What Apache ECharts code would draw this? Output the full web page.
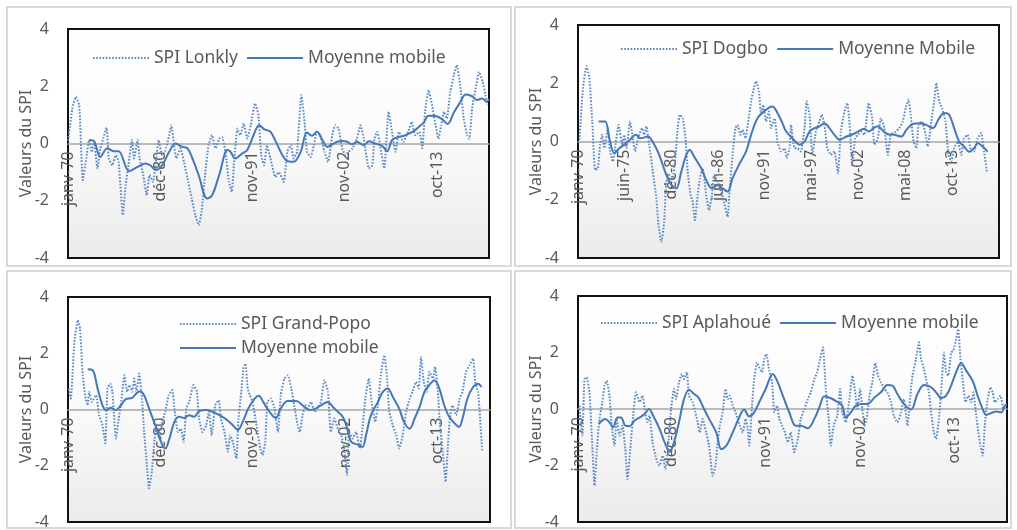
<!DOCTYPE html>
<html><head><meta charset="utf-8">
<script src="https://cdn.jsdelivr.net/npm/echarts@6/dist/echarts.min.js"></script>
<style>html,body{margin:0;padding:0;background:#fff}#c{width:1017px;height:530px}</style>
</head><body><div id="c"></div>
<script>
// ---------- categories / tick labels ----------
const monthNames = ['janv','févr','mars','avr','mai','juin','juil','août','sept','oct','nov','déc'];
const firstYear = 1970;
const monthCount = 600;        // janv-70 .. déc-19
const monthCountDogbo = 592;   // Dogbo axis ends earlier
const ticksMain = ['janv-70','déc-80','nov-91','nov-02','oct-13'];
const ticksDogbo = ['janv-70','juin-75','déc-80','juin-86','nov-91','mai-97','nov-02','mai-08','oct-13'];
const yMin = -4, yMax = 4, yInterval = 2;

// ---------- series values: [month index, SPI] ----------
const spiLonkly = [[0,0.1],[3,0.64],[6,1.2],[11,1.63],[16,1.34],[21,-1.28],[26,-0.52],[30,0.12],[34,-0.3],[37,0.06],[42,-0.87],[46,-0.17],[50,0.17],[55,0.55],[58,-0.52],[63,-0.76],[68,-0.41],[72,-0.64],[78,-2.5],[82,-1.46],[86,-0.76],[91,0.12],[94,-0.52],[99,0.12],[102,-0.52],[107,-1.1],[112,-1.81],[116,-1.1],[121,-1.34],[125,-0.64],[129,0.12],[134,-0.41],[138,-0.29],[144,0.29],[147,0.64],[151,-0.06],[154,-0.52],[160,-0.17],[165,-0.64],[171,-1.34],[176,-1.92],[181,-2.5],[186,-2.85],[190,-2.39],[195,-1.11],[200,-0.06],[205,0.29],[210,-0.17],[215,0.17],[219,0.23],[224,-0.29],[229,-1.34],[233,-1.69],[236,-0.76],[241,0.52],[245,0.29],[250,0.7],[255,0.17],[260,0.64],[266,1.4],[271,0.99],[275,-0.41],[279,-0.76],[283,-0.06],[288,-0.52],[295,-1.17],[300,-1.0],[307,-1.34],[312,-0.29],[317,-0.06],[321,-0.52],[326,-0.29],[332,1.69],[337,0.64],[340,-0.29],[345,-0.47],[350,-0.06],[354,0.41],[359,0.29],[365,-0.29],[370,-0.64],[376,0.29],[380,0.64],[385,0.52],[390,-0.17],[395,-0.41],[399,-0.29],[405,-0.17],[411,0.17],[416,0.64],[421,0.17],[428,-0.87],[433,-0.76],[436,0.17],[440,0.41],[444,-0.06],[450,-0.87],[456,1.11],[461,0.41],[466,-0.29],[471,0.41],[477,0.06],[484,0.41],[489,0.76],[494,0.29],[500,0.41],[504,-0.17],[508,1.11],[513,1.86],[518,1.34],[523,0.64],[527,0.17],[531,0.64],[535,1.11],[539,0.87],[544,1.81],[549,2.39],[553,2.74],[558,2.04],[563,0.87],[568,0.29],[571,0.17],[575,1.22],[580,1.92],[585,2.5],[590,2.16],[594,1.69],[597,1.34]];
const maLonkly = [[30,0.12],[37,0.08],[46,-0.47],[56,-0.17],[65,-0.27],[72,-0.27],[87,-0.97],[99,-0.82],[110,-0.7],[117,-0.76],[125,-0.93],[134,-0.76],[144,-0.29],[153,0],[163,-0.12],[170,-0.17],[177,-0.52],[186,-1.11],[198,-1.92],[205,-1.81],[215,-1.11],[227,-0.23],[231,-0.29],[238,-0.52],[248,-0.35],[255,-0.23],[264,0.29],[272,0.64],[279,0.5],[288,0.41],[295,0.1],[310,-0.58],[321,-0.64],[331,-0.29],[340,0.38],[347,0.27],[354,0.41],[362,0.12],[369,-0.12],[376,-0.03],[383,0.06],[390,0.09],[397,0.06],[404,-0.03],[411,0.06],[421,-0.06],[428,0.08],[437,0],[447,-0.08],[454,-0.27],[461,0.12],[468,0.21],[478,0.27],[485,0.35],[492,0.43],[499,0.58],[506,0.73],[513,0.97],[523,0.96],[532,0.85],[540,0.68],[549,1.08],[557,1.4],[566,1.71],[575,1.65],[582,1.52],[589,1.57],[596,1.46],[599,1.55]];

const spiDogbo = [[2,0.06],[7,1.84],[12,2.59],[16,2.18],[20,0.69],[24,-0.98],[28,-0.92],[31,-0.11],[34,0.23],[37,-0.23],[42,0.46],[45,-0.34],[49,-0.69],[52,-0.23],[57,0.57],[62,-0.11],[65,0.23],[68,-0.23],[73,0.69],[77,0.11],[80,-0.34],[85,0.17],[90,0.46],[93,0.23],[96,0.52],[100,-0.11],[105,-1.03],[110,-1.95],[113,-2.87],[117,-3.45],[121,-2.76],[124,-1.38],[129,-1.15],[133,-1.26],[137,-0.46],[140,0.46],[143,0.92],[147,0.8],[151,0.11],[154,-1.03],[158,-1.84],[161,-2.07],[164,-2.7],[168,-1.84],[171,-1.26],[175,-0.92],[180,-1.84],[184,-2.36],[188,-1.84],[191,-1.15],[196,-1.38],[201,-1.72],[205,-2.07],[210,-2.59],[213,-1.61],[217,-0.46],[221,0.46],[224,0.57],[228,0.23],[231,0.4],[235,0.11],[239,0.69],[243,1.38],[247,1.84],[250,2.07],[254,1.72],[257,0.92],[260,1.26],[264,0.69],[268,1.03],[271,0.46],[276,0.8],[280,0],[285,-0.34],[290,-0.23],[293,-0.57],[297,-0.23],[299,0.57],[304,-0.23],[308,-0.23],[313,-0.34],[318,0.46],[321,1.38],[325,0.92],[329,-0.46],[334,0.34],[339,0.69],[342,0.92],[346,0.57],[350,-0.23],[355,-0.46],[360,-0.34],[365,-1.09],[369,0.34],[374,1.03],[378,1.32],[381,0.69],[385,-0.8],[389,0.11],[393,0.23],[397,0.34],[402,0.23],[408,1.32],[413,0.8],[416,-0.11],[421,0.11],[425,0.8],[430,0.46],[435,-0.46],[439,0.23],[446,0.34],[451,0.46],[456,0.69],[460,1.15],[464,1.44],[467,0.92],[471,0],[475,-0.23],[478,0.57],[483,0.69],[488,0.23],[491,-0.17],[496,0.69],[500,1.38],[503,2.01],[507,1.38],[511,1.15],[516,0.69],[520,-0.46],[524,-0.69],[528,-0.23],[533,0],[538,-0.46],[542,0.11],[547,0.23],[552,-0.34],[556,-0.34],[561,0.11],[566,0.29],[570,-0.34],[574,-1.03]];
const maDogbo = [[29,0.69],[38,0.69],[44,0.11],[51,-0.4],[58,-0.23],[66,-0.09],[74,0.09],[81,0.23],[88,0.11],[98,0.17],[106,-0.06],[114,-0.46],[124,-1.15],[131,-1.49],[138,-1.61],[145,-1.03],[152,-0.46],[157,-0.29],[163,-0.52],[173,-0.92],[181,-1.38],[188,-1.61],[196,-1.49],[203,-1.61],[210,-1.72],[217,-1.26],[226,-0.8],[236,-0.34],[243,0.23],[252,0.8],[264,1.09],[273,1.2],[280,0.98],[287,0.63],[292,0.35],[301,0.11],[311,-0.11],[318,0],[325,0.34],[332,0.46],[339,0.52],[346,0.63],[353,0.46],[360,0.23],[367,0.06],[377,0.17],[386,0.25],[393,0.34],[402,0.44],[408,0.34],[415,0.46],[421,0.52],[428,0.37],[435,0.25],[444,0.23],[454,0.17],[461,0.4],[470,0.6],[479,0.63],[489,0.57],[498,0.46],[507,0.8],[514,0.98],[521,0.92],[528,0.46],[535,0],[542,-0.17],[549,-0.35],[556,-0.23],[561,-0.06],[568,-0.17],[575,-0.35]];

const spiGrandPopo = [[1,0.75],[4,0.39],[9,2.4],[14,3.18],[17,2.88],[21,1.22],[25,0.39],[28,0.15],[30,0.63],[34,0.27],[40,0.51],[44,-0.2],[49,-0.56],[53,-1.2],[56,0.75],[60,0.92],[63,0.63],[68,-1.03],[72,-0.32],[75,0.15],[80,1.22],[84,0.63],[87,0.87],[91,0.63],[94,1.1],[97,0.63],[101,1.28],[105,0.39],[108,-0.8],[112,-1.98],[115,-2.8],[119,-2.2],[123,-1.03],[126,-0.56],[130,-0.92],[134,-0.44],[138,-0.08],[143,0.51],[148,0.69],[151,0.04],[156,-0.8],[160,-0.68],[164,-1.15],[168,0.04],[172,0.27],[178,0.87],[183,0.63],[186,-0.32],[191,-0.8],[196,-0.56],[200,-0.08],[204,-0.92],[209,0.15],[214,0.33],[217,-0.32],[222,-0.8],[227,-1.5],[230,-0.92],[234,-1.15],[239,-1.74],[242,-0.32],[246,0.63],[249,1.46],[252,1.63],[255,0.75],[258,0.51],[262,0.27],[266,-0.32],[269,-0.8],[273,-1.39],[276,-1.62],[280,-1.15],[283,0.27],[288,0.39],[293,0.04],[298,-0.8],[302,0.51],[307,1.1],[312,1.22],[317,0.75],[321,0.15],[326,-0.56],[329,-0.8],[333,-0.2],[337,0.15],[340,0.04],[345,0.27],[350,-0.08],[354,0.04],[359,0.27],[364,1.04],[369,0.63],[373,-0.8],[378,-0.32],[383,-0.68],[388,-0.92],[392,-1.39],[396,-2.33],[399,-0.8],[404,-1.03],[409,-0.8],[414,-1.39],[418,-0.68],[422,0.39],[427,1.1],[431,0.27],[436,-0.44],[440,0.15],[444,1.22],[449,1.93],[453,1.1],[456,-0.08],[461,-0.56],[466,-0.92],[470,-1.39],[475,-0.92],[480,-0.08],[485,0.39],[489,0.63],[494,0.98],[498,0.75],[501,1.87],[505,0.98],[509,0.63],[513,1.34],[518,1.1],[521,1.52],[525,0.63],[528,-0.56],[532,-1.5],[536,-2.57],[539,-1.39],[542,-0.32],[546,0.15],[551,-0.2],[556,0.39],[560,0.63],[565,1.34],[570,1.58],[575,1.81],[578,0.98],[582,0.63],[585,-0.32],[588,-1.5]];
const maGrandPopo = [[28,1.43],[35,1.4],[42,0.75],[49,0.15],[54,-0.02],[61,0.06],[68,-0.02],[75,0.15],[82,0.37],[91,0.41],[97,0.57],[102,0.65],[108,0.51],[115,0.04],[123,-0.5],[130,-1.03],[138,-1.39],[144,-1.03],[151,-0.44],[158,-0.26],[165,-0.3],[172,-0.2],[179,-0.26],[186,-0.06],[196,-0.02],[205,-0.08],[215,-0.2],[224,-0.34],[234,-0.56],[241,-0.73],[248,-0.44],[256,0.04],[265,0.39],[271,0.49],[277,0.27],[286,-0.08],[295,-0.3],[302,0.04],[312,0.3],[324,0.3],[333,0.15],[343,-0.02],[352,0.04],[359,0.15],[369,0.27],[376,0.09],[383,-0.08],[390,-0.26],[395,-0.56],[402,-1.15],[411,-1.25],[418,-1.33],[423,-0.92],[430,-0.2],[440,0.27],[447,0.63],[454,0.75],[461,0.45],[470,0.04],[477,-0.44],[485,-0.68],[492,-0.32],[499,0.09],[506,0.63],[513,0.87],[520,1.04],[527,0.75],[534,0.15],[541,-0.26],[549,-0.5],[555,-0.62],[560,-0.32],[567,0.39],[575,0.8],[582,0.92],[587,0.8]];

const spiAplahoue = [[2,0.12],[6,-0.94],[9,1.06],[12,1.12],[16,0.59],[20,-1.3],[23,-2.71],[26,-1.53],[30,-0.35],[34,0.24],[37,0.83],[40,1.0],[44,0.47],[47,-0.59],[51,-1.3],[54,-0.35],[58,-0.94],[62,-0.59],[66,-1.42],[69,-2.48],[73,-1.42],[77,-0.24],[81,0.59],[86,0.24],[90,0.47],[94,-0.12],[97,-0.47],[100,-0.24],[104,-1.18],[108,-1.65],[111,-1.89],[114,-2.0],[118,-1.65],[122,-2.12],[126,-1.3],[130,0],[134,0.71],[137,0.35],[141,0.94],[145,1.24],[148,1.06],[152,1.3],[155,0.47],[160,0.24],[164,-0.12],[167,-0.47],[170,-0.83],[174,-0.35],[179,-0.83],[183,-1.3],[188,-2.36],[192,-2.0],[195,-1.18],[198,-0.59],[202,-0.12],[206,0.71],[209,0.35],[212,0.47],[216,0.12],[220,-0.12],[223,-0.35],[226,-0.59],[230,-0.83],[234,-0.35],[237,-0.71],[239,-1.3],[243,0.12],[246,1.06],[250,1.65],[253,1.47],[257,1.3],[260,1.77],[263,1.95],[267,1.36],[271,0.94],[274,-0.12],[278,0.12],[281,-0.35],[285,-0.59],[289,-0.83],[293,-1.18],[297,-0.83],[302,-1.53],[307,-1.06],[311,-0.35],[316,0],[321,0.35],[325,0.59],[330,1.06],[334,1.3],[338,1.77],[342,2.18],[346,0.71],[350,-0.35],[353,-1.3],[357,-0.59],[362,-0.24],[366,0.71],[369,-0.12],[374,-0.47],[379,0.35],[383,1.18],[387,0.59],[390,0],[394,0.71],[396,0.24],[400,-0.59],[403,-0.35],[407,0.47],[411,0.94],[415,1.63],[419,1.18],[423,0.94],[428,0.71],[432,0.59],[437,0.24],[441,-0.24],[446,-0.47],[451,-0.12],[455,0.35],[460,-0.59],[464,0.47],[467,1.18],[472,1.77],[476,2.36],[479,1.77],[483,1.42],[486,1.06],[490,0.59],[493,-0.12],[497,-0.83],[500,-1.06],[504,-0.35],[507,0.59],[511,2.0],[514,1.3],[517,1.18],[521,2.0],[524,2.06],[528,2.48],[531,2.83],[534,1.77],[538,0.83],[541,0.24],[545,0.47],[549,0.24],[552,0.59],[555,0],[559,-0.83],[562,-1.3],[565,-1.65],[568,-0.59],[572,0.35],[576,0.77],[579,0.59],[582,0.24],[586,0.35],[590,0.47],[594,0],[598,0.12]];
const maAplahoue = [[29,-0.53],[38,-0.35],[44,-0.47],[49,-0.65],[55,-0.3],[60,-0.3],[66,-0.59],[72,-0.61],[79,-0.41],[86,-0.3],[93,-0.18],[99,0],[105,-0.24],[114,-0.71],[121,-1.18],[128,-1.51],[134,-1.18],[141,-0.47],[148,0.35],[155,0.68],[162,0.53],[168,0.41],[176,0],[183,-0.35],[193,-0.83],[200,-1.42],[207,-1.3],[216,-0.83],[225,-0.3],[232,-0.02],[239,-0.26],[246,-0.12],[253,0.24],[262,0.71],[272,1.24],[279,0.94],[286,0.47],[295,-0.12],[304,-0.59],[311,-0.59],[321,-0.68],[330,-0.35],[337,0.06],[344,0.45],[353,0.38],[363,0.24],[369,0.12],[374,-0.3],[381,-0.12],[388,0.12],[397,0.18],[404,0.18],[414,0.41],[423,0.59],[432,0.85],[439,0.83],[446,0.53],[455,0.18],[465,-0.02],[474,0.53],[483,0.85],[493,0.77],[502,0.53],[507,0.38],[514,0.47],[521,0.83],[528,1.3],[535,1.63],[542,1.36],[551,1.0],[558,0.47],[565,0],[570,-0.21],[577,-0.14],[584,-0.09],[591,-0.12],[596,0.12],[599,0.15]];

// ---------- build ----------
function monthLabels(n){
  const out = [];
  for (let i = 0; i < n; i++) {
    const y = firstYear + Math.floor(i / 12);
    out.push(monthNames[i % 12] + '-' + String(y % 100).padStart(2, '0'));
  }
  return out;
}

const TXT = '#595959';
const FONT = 'Noto Sans';
const SPI_COLOR = '#5b8ac6';
const MA_COLOR = '#4677b6';

const panels = [
  {grid:{left:68, top:29, width:421, height:229}, n:monthCount, ticks:ticksMain, spiName:'SPI Lonkly', maName:'Moyenne mobile', spi:spiLonkly, ma:maLonkly,
   legend:{left:92, top:49, orient:'horizontal'}},
  {grid:{left:578, top:25, width:421, height:233}, n:monthCountDogbo, ticks:ticksDogbo, spiName:'SPI Dogbo', maName:'Moyenne Mobile', spi:spiDogbo, ma:maDogbo,
   legend:{left:620, top:40, orient:'horizontal'}},
  {grid:{left:68, top:297, width:422, height:225}, n:monthCount, ticks:ticksMain, spiName:'SPI Grand-Popo', maName:'Moyenne mobile', spi:spiGrandPopo, ma:maGrandPopo,
   legend:{left:179, top:315, orient:'vertical'}},
  {grid:{left:578, top:296, width:429, height:226}, n:monthCount, ticks:ticksMain, spiName:'SPI Aplahoué', maName:'Moyenne mobile', spi:spiAplahoue, ma:maAplahoue,
   legend:{left:600, top:314, orient:'horizontal'}}
];

const plotBg = new echarts.graphic.LinearGradient(0,0,0,1,[{offset:0,color:'#ffffff'},{offset:0.45,color:'#fbfbfb'},{offset:1,color:'#ebebeb'}]);

const option = {
  animation: false,
  backgroundColor: '#ffffff',
  textStyle: {fontFamily: FONT},
  grid: [], xAxis: [], yAxis: [], series: [], legend: [],
  graphic: [
    {type:'rect', silent:true, shape:{x:7,y:7,width:504,height:259}, style:{fill:'none', stroke:'#d9d9d9', lineWidth:2}},
    {type:'rect', silent:true, shape:{x:515,y:7,width:496,height:259}, style:{fill:'none', stroke:'#d9d9d9', lineWidth:2}},
    {type:'rect', silent:true, shape:{x:7,y:271,width:504,height:257}, style:{fill:'none', stroke:'#d9d9d9', lineWidth:2}},
    {type:'rect', silent:true, shape:{x:515,y:271,width:496,height:257}, style:{fill:'none', stroke:'#d9d9d9', lineWidth:2}}
  ]
};

panels.forEach((p, i) => {
  option.grid.push(Object.assign({show:true, borderColor:'#111', borderWidth:2, backgroundColor:plotBg, containLabel:false}, p.grid));
  const cats = monthLabels(p.n);
  option.xAxis.push({
    type:'category', gridIndex:i, data:cats, boundaryGap:false,
    offset: -p.grid.height / 2,
    axisLine:{show:true, onZero:false, lineStyle:{color:'#a6a6a6', width:1.5}},
    axisTick:{show:false},
    splitLine:{show:false},
    axisLabel:{
      rotate:90, margin:8, color:TXT, fontSize:16, fontFamily:FONT,
      interval:(idx, val) => p.ticks.indexOf(val) >= 0
    }
  });
  option.yAxis.push({
    type:'value', gridIndex:i, min:yMin, max:yMax, interval:yInterval,
    axisLine:{show:false}, axisTick:{show:false}, splitLine:{show:false},
    axisLabel:{color:TXT, fontSize:16, margin:19, fontFamily:FONT},
    name:'Valeurs du SPI', nameLocation:'middle', nameGap:34, nameMoveOverlap:false,
    nameTextStyle:{color:TXT, fontSize:16, fontFamily:FONT}
  });
  option.series.push({
    type:'line', name:p.spiName, xAxisIndex:i, yAxisIndex:i, data:p.spi,
    showSymbol:false, symbol:'none', smooth:0.15,
    lineStyle:{color:SPI_COLOR, width:2, type:[1.6,1.6]}, itemStyle:{color:SPI_COLOR}, z:2
  });
  option.series.push({
    type:'line', name:p.maName, xAxisIndex:i, yAxisIndex:i, data:p.ma,
    showSymbol:false, symbol:'none', smooth:0.35,
    lineStyle:{color:MA_COLOR, width:2}, itemStyle:{color:MA_COLOR}, z:3
  });
  option.legend.push(Object.assign({
    data:[p.spiName, p.maName], selectedMode:false, padding:0,
    itemWidth:56, itemHeight:14, itemGap: p.legend.orient === 'vertical' ? 6 : 8,
    itemStyle:{opacity:0, borderWidth:0},
    textStyle:{color:TXT, fontSize:17.5, fontFamily:FONT}
  }, p.legend));
});

const chart = echarts.init(document.getElementById('c'), null, {renderer:'canvas'});
chart.setOption(option);
</script>
</body></html>
